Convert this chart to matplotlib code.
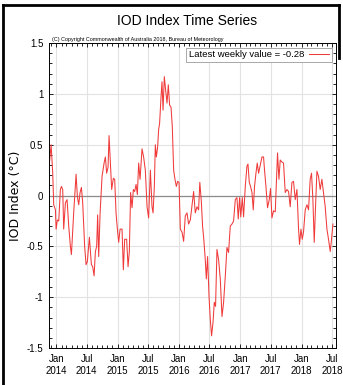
import matplotlib

matplotlib.use("Agg")
import matplotlib.dates as mdates
import matplotlib.pyplot as plt
import numpy as np
import pandas as pd
from matplotlib.lines import Line2D
from matplotlib.ticker import MultipleLocator

# weekly IOD index (decimal year, value in degC)
years = [
    2013.886, 2013.914, 2013.940, 2013.956, 2013.984, 2013.995, 2014.016, 2014.038,
    2014.065, 2014.082, 2014.103, 2014.119, 2014.147, 2014.174, 2014.201, 2014.228,
    2014.245, 2014.282, 2014.321, 2014.342, 2014.364, 2014.386, 2014.408, 2014.429,
    2014.461, 2014.484, 2014.505, 2014.538, 2014.571, 2014.592, 2014.615, 2014.636,
    2014.657, 2014.673, 2014.690, 2014.713, 2014.745, 2014.778, 2014.799, 2014.820,
    2014.843, 2014.859, 2014.880, 2014.902, 2014.929, 2014.951, 2014.973, 2014.995,
    2015.016, 2015.039, 2015.071, 2015.092, 2015.114, 2015.146, 2015.169, 2015.190,
    2015.211, 2015.234, 2015.256, 2015.277, 2015.300, 2015.321, 2015.342, 2015.365,
    2015.397, 2015.423, 2015.451, 2015.479, 2015.505, 2015.533, 2015.560, 2015.577,
    2015.598, 2015.614, 2015.631, 2015.652, 2015.668, 2015.684, 2015.707, 2015.723,
    2015.740, 2015.761, 2015.782, 2015.805, 2015.826, 2015.847, 2015.870, 2015.891,
    2015.913, 2015.935, 2015.957, 2015.978, 2016.001, 2016.022, 2016.050, 2016.076,
    2016.103, 2016.131, 2016.157, 2016.185, 2016.213, 2016.239, 2016.266, 2016.294,
    2016.320, 2016.340, 2016.364, 2016.385, 2016.405, 2016.429, 2016.446, 2016.467,
    2016.490, 2016.511, 2016.532, 2016.555, 2016.576, 2016.597, 2016.620, 2016.646,
    2016.674, 2016.702, 2016.728, 2016.756, 2016.783, 2016.809, 2016.837, 2016.865,
    2016.891, 2016.919, 2016.946, 2016.967, 2016.989, 2017.008, 2017.033, 2017.054,
    2017.082, 2017.109, 2017.126, 2017.147, 2017.168, 2017.191, 2017.212, 2017.233,
    2017.256, 2017.277, 2017.299, 2017.326, 2017.354, 2017.380, 2017.396, 2017.419,
    2017.445, 2017.473, 2017.494, 2017.517, 2017.543, 2017.571, 2017.608, 2017.631,
    2017.652, 2017.680, 2017.706, 2017.734, 2017.762, 2017.788, 2017.815, 2017.843,
    2017.869, 2017.897, 2017.925, 2017.951, 2017.967, 2017.990, 2018.011, 2018.032,
    2018.060, 2018.088, 2018.114, 2018.141, 2018.163, 2018.185, 2018.207, 2018.228,
    2018.251, 2018.277, 2018.304, 2018.332, 2018.358, 2018.386, 2018.414, 2018.440,
    2018.468, 2018.489, 2018.512,
]
iod = [
    0.32, 0.50, 0.22, -0.09, -0.14, -0.33, -0.24, -0.25,
    0.06, 0.09, 0.06, -0.33, -0.07, -0.04, -0.30, -0.50,
    -0.58, -0.17, 0.21, -0.01, -0.09, 0.03, 0.08, -0.07,
    -0.50, -0.68, -0.65, -0.41, -0.68, -0.70, -0.79, -0.55,
    -0.50, -0.19, -0.60, -0.17, 0.19, 0.32, 0.38, 0.22,
    0.28, 0.59, 0.32, 0.06, 0.17, 0.16, -0.17, -0.33,
    -0.46, -0.33, -0.33, -0.73, -0.43, -0.43, -0.70, -0.55,
    0.03, -0.12, 0.06, 0.04, 0.11, 0.01, 0.32, 0.16,
    0.46, 0.38, 0.25, -0.11, -0.22, 0.25, -0.11, -0.17,
    0.09, 0.50, 0.38, 0.48, 0.65, 0.71, 0.97, 1.12,
    0.84, 1.17, 1.04, 0.91, 1.09, 0.89, 0.87, 0.68,
    0.25, 0.16, 0.09, 0.14, 0.13, -0.33, -0.36, -0.45,
    -0.20, -0.17, -0.28, -0.24, -0.09, 0.04, -0.17, -0.11,
    -0.14, 0.13, -0.05, -0.30, -0.43, -0.63, -0.82, -0.60,
    -0.99, -1.22, -1.38, -1.25, -1.05, -1.09, -0.53, -0.63,
    -0.82, -1.19, -1.05, -0.79, -0.51, -0.56, -0.30, -0.28,
    -0.25, -0.04, -0.02, -0.23, -0.02, -0.21, -0.02, -0.21,
    0.09, 0.29, 0.31, 0.13, 0.09, 0.03, -0.14, 0.09,
    0.22, 0.32, 0.22, 0.30, 0.38, 0.38, 0.25, 0.09,
    -0.12, -0.04, 0.07, -0.22, -0.15, -0.16, 0.42, 0.16,
    0.35, 0.33, 0.32, 0.03, 0.06, 0.04, -0.11, 0.13,
    0.14, -0.04, 0.06, -0.33, -0.48, -0.33, -0.43, -0.36,
    -0.14, -0.09, -0.14, 0.16, 0.22, -0.04, -0.46, -0.11,
    0.24, 0.19, 0.06, 0.16, 0.03, -0.11, -0.33, -0.43,
    -0.55, -0.43, -0.28,
]
latest = -0.28
x_range = (2013.88, 2018.57)

NARROW = ["Liberation Sans Narrow", "Liberation Sans", "DejaVu Sans"]


def to_dates(yrs):
    yrs = np.asarray(yrs, dtype=float)
    return pd.Timestamp("2014-01-01") + pd.to_timedelta((yrs - 2014.0) * 365.25, unit="D")


dates = to_dates(years)
xlo, xhi = to_dates(x_range)

fig = plt.figure(figsize=(3.43, 3.85), dpi=100)
ax = fig.add_axes([0.143, 0.096, 0.838, 0.792])

ax.plot(dates, iod, color="#f03a3a", lw=0.75, label=f"Latest weekly value = {latest:.2f}")
ax.axhline(0, color="#8c8c8c", lw=0.9, zorder=1)

ax.set_xlim(xlo, xhi)
ax.set_ylim(-1.5, 1.5)

ax.xaxis.set_major_locator(mdates.MonthLocator(bymonth=[1, 7]))
ax.xaxis.set_major_formatter(mdates.DateFormatter("%b\n%Y"))
ax.xaxis.set_minor_locator(mdates.MonthLocator())
ax.yaxis.set_major_locator(MultipleLocator(0.5))
ax.yaxis.set_minor_locator(MultipleLocator(0.1))
ax.yaxis.set_major_formatter(lambda v, p: f"{v:g}")

ax.grid(True, which="major", color="#e2e2e2", lw=0.8)
ax.set_axisbelow(True)
ax.tick_params(which="both", direction="in", top=True, right=True, width=0.6)
ax.tick_params(which="major", length=3, labelsize=7, pad=4)
ax.tick_params(which="minor", length=2)
for lab in ax.get_xticklabels() + ax.get_yticklabels():
    lab.set_family(NARROW)
    lab.set_linespacing(1.3)
for sp in ax.spines.values():
    sp.set_linewidth(0.7)

ax.set_ylabel("IOD Index (°C)", fontsize=9)
ax.yaxis.set_label_coords(-0.094, 0.5)

leg = ax.legend(loc="upper right", markerfirst=False, handlelength=2.2,
                fancybox=False, framealpha=1, borderpad=0.25, borderaxespad=0.5,
                handletextpad=0.5, prop={"family": NARROW, "size": 6.8})
leg.get_frame().set_edgecolor("#9a9a9a")
leg.get_frame().set_linewidth(0.6)

fig.text(0.545, 0.945, "IOD Index Time Series", ha="center", va="center",
         fontsize=10, family=NARROW)
ax.text(0.01, 1.004, "(C) Copyright Commonwealth of Australia 2018, Bureau of Meteorology",
        transform=ax.transAxes, ha="left", va="bottom", fontsize=3.9, family=NARROW)

# black frame of the original panel
for xs, ys in (([0.009, 0.009], [0.0, 0.987]), ([0.009, 0.988], [0.987, 0.987]),
               ([0.988, 0.988], [0.987, 0.85])):
    fig.add_artist(Line2D(xs, ys, color="black", lw=2, transform=fig.transFigure))

fig.savefig("out.png", dpi=100)
